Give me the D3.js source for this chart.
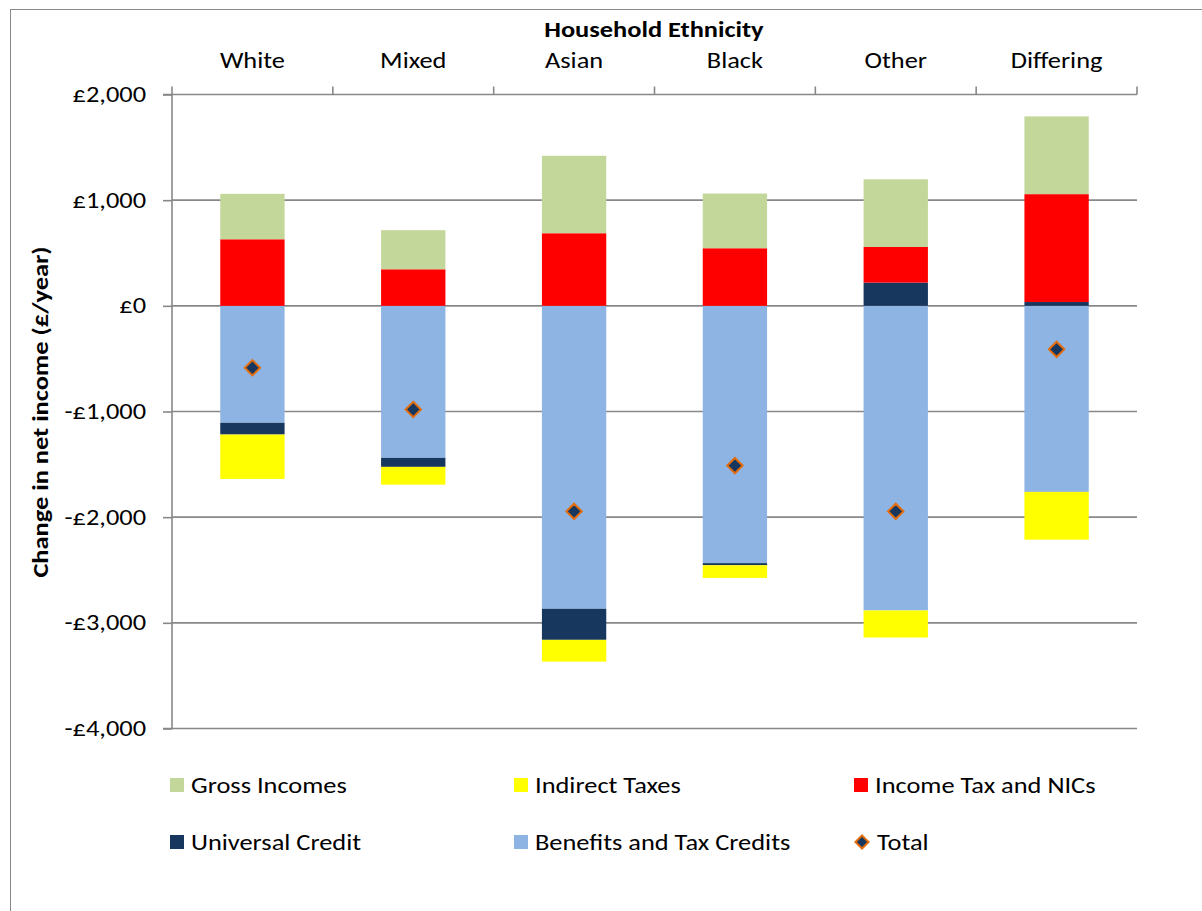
<!DOCTYPE html>
<html>
<head>
<meta charset="utf-8">
<script src="https://cdn.jsdelivr.net/npm/d3@7"></script>
<style>
  html, body { margin: 0; padding: 0; background: #fff; }
  svg { display: block; }
  text { font-family: Carlito, Calibri, Lato, "Noto Sans", sans-serif; fill: #000; font-size: 22px; }
  .wide { transform-box: fill-box; transform: scaleX(1.2); }
  .wide-mid { transform-origin: center; }
  .wide-end { transform-origin: right center; }
  .wide-start { transform-origin: left center; }
</style>
</head>
<body>
<svg id="chart" width="1202" height="911"></svg>
<script>
// ---- data ----
const categories = ["White", "Mixed", "Asian", "Black", "Other", "Differing"];
const grossIncomes     = [430, 370, 733, 518, 641, 736];
const indirectTaxes    = [-420, -168, -206, -120, -256, -452];
const incomeTaxNICs    = [630, 346, 687, 545, 337, 1021];
const universalCredit  = [-111, -85, -294, -20, 220, 36];
const benefitsCredits  = [-1107, -1439, -2867, -2435, -2883, -1761];
const totalChange      = [-586, -981, -1945, -1512, -1945, -412];
const yTicks = [-4000, -3000, -2000, -1000, 0, 1000, 2000];
const seriesNames = ["Gross Incomes", "Indirect Taxes", "Income Tax and NICs", "Universal Credit", "Benefits and Tax Credits", "Total"];

// ---- build table ----
const seriesValues = {
  "Gross Incomes": grossIncomes,
  "Indirect Taxes": indirectTaxes,
  "Income Tax and NICs": incomeTaxNICs,
  "Universal Credit": universalCredit,
  "Benefits and Tax Credits": benefitsCredits
};
const colors = {
  "Gross Incomes": "#C4D79B",
  "Indirect Taxes": "#FFFF00",
  "Income Tax and NICs": "#FF0000",
  "Universal Credit": "#17375E",
  "Benefits and Tax Credits": "#8EB4E3"
};
const stackOrder = ["Benefits and Tax Credits", "Universal Credit", "Income Tax and NICs", "Indirect Taxes", "Gross Incomes"];
const table = categories.map((c, i) => {
  const row = { category: c };
  stackOrder.forEach(k => row[k] = seriesValues[k][i]);
  return row;
});

const svg = d3.select("#chart");
svg.append("rect").attr("x", 0).attr("y", 0).attr("width", 1202).attr("height", 911).attr("fill", "#fff");
// outer chart border
svg.append("rect").attr("x", 10.5).attr("y", 9.5).attr("width", 1200).attr("height", 910)
  .attr("fill", "none").attr("stroke", "#888").attr("stroke-width", 1);

const pLeft = 172, pRight = 1137, pTop = 94.5, pBottom = 728.5;
const x = d3.scaleBand().domain(categories).range([pLeft, pRight]).paddingInner(0.6).paddingOuter(0.3);
const y = d3.scaleLinear().domain([-4000, 2000]).range([pBottom, pTop]);

// gridlines
svg.append("g").selectAll("line").data(yTicks).join("line")
  .attr("x1", pLeft).attr("x2", pRight)
  .attr("y1", d => y(d)).attr("y2", d => y(d))
  .attr("stroke", "#888").attr("stroke-width", 1.6);

// y axis
const yAxis = d3.axisLeft(y).tickValues(yTicks).tickSize(9).tickPadding(17)
  .tickFormat(d => (d < 0 ? "-" : "") + "£" + d3.format(",")(Math.abs(d)));
const gy = svg.append("g").attr("transform", `translate(${pLeft},0)`).call(yAxis);
gy.attr("font-size", null).attr("font-family", null);
gy.select(".domain").attr("stroke", "#888").attr("stroke-width", 1.6).attr("d", `M-9,${pTop}H0V${pBottom}H-9`);
gy.selectAll(".tick line").attr("stroke", "#888").attr("stroke-width", 1.6);
gy.selectAll(".tick text").attr("fill", "#000").attr("class", "wide wide-end");

// top category axis
const xAxis = d3.axisTop(x).tickSize(0).tickPadding(27);
const gx = svg.append("g").attr("transform", `translate(0,${pTop})`).call(xAxis);
gx.attr("font-size", null).attr("font-family", null);
gx.select(".domain").remove();
gx.selectAll(".tick text").attr("fill", "#000").attr("class", "wide wide-mid");
// category boundary ticks
const boundaries = d3.range(categories.length + 1).map(i => pLeft + i * (pRight - pLeft) / categories.length);
svg.append("g").selectAll("line").data(boundaries).join("line")
  .attr("x1", d => d).attr("x2", d => d).attr("y1", pTop - 8).attr("y2", pTop)
  .attr("stroke", "#888").attr("stroke-width", 1.6);

// titles
svg.append("text").attr("x", 654).attr("y", 37).attr("text-anchor", "middle")
  .attr("font-weight", "bold").attr("class", "wide wide-mid").text("Household Ethnicity");
svg.append("g").attr("transform", "translate(48,412) rotate(-90)")
  .append("text").attr("text-anchor", "middle")
  .attr("font-weight", "bold").attr("class", "wide wide-mid").text("Change in net income (£/year)");

// stacked bars
const stack = d3.stack().keys(stackOrder).offset(d3.stackOffsetDiverging);
const stacked = stack(table);
svg.append("g").selectAll("g").data(stacked).join("g")
  .attr("fill", d => colors[d.key])
  .selectAll("rect").data(d => d).join("rect")
  .attr("x", d => x(d.data.category))
  .attr("width", x.bandwidth())
  .attr("y", d => y(Math.max(d[0], d[1])))
  .attr("height", d => Math.abs(y(d[0]) - y(d[1])));

// total markers
const diamond = d3.symbol().type(d3.symbolDiamond2).size(150);
svg.append("g").selectAll("path").data(categories).join("path")
  .attr("d", diamond)
  .attr("transform", (c, i) => `translate(${x(c) + x.bandwidth() / 2},${y(totalChange[i])})`)
  .attr("fill", "#17375E").attr("stroke", "#E46C0A").attr("stroke-width", 2);

// legend
const legendPos = [
  { x: 170, y: 785 }, { x: 514, y: 785 }, { x: 854, y: 785 },
  { x: 170, y: 842 }, { x: 514, y: 842 }, { x: 854, y: 842 }
];
const lg = svg.append("g").selectAll("g").data(seriesNames).join("g")
  .attr("transform", (d, i) => `translate(${legendPos[i].x},${legendPos[i].y})`);
lg.filter(d => d !== "Total").append("rect")
  .attr("x", 0).attr("y", -7).attr("width", 14).attr("height", 14)
  .attr("fill", d => colors[d]);
lg.filter(d => d === "Total").append("path")
  .attr("d", d3.symbol().type(d3.symbolDiamond2).size(110))
  .attr("transform", "translate(8,0)")
  .attr("fill", "#17375E").attr("stroke", "#E46C0A").attr("stroke-width", 2);
lg.append("text").attr("x", d => d === "Total" ? 23 : 21).attr("y", 0).attr("dy", "0.35em")
  .attr("class", "wide wide-start").text(d => d);
</script>
</body>
</html>
